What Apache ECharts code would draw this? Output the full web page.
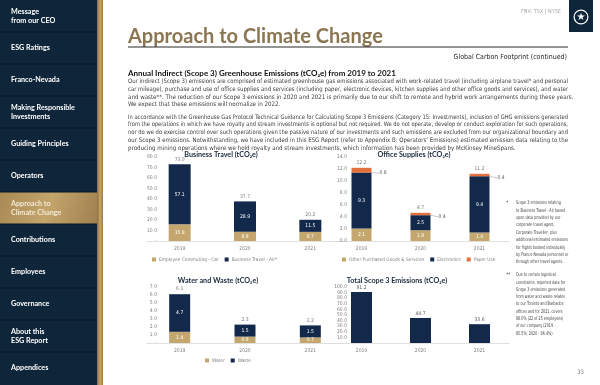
<!DOCTYPE html>
<html><head><meta charset="utf-8">
<script src="https://cdn.jsdelivr.net/npm/echarts@6/dist/echarts.min.js"></script>
<style>html,body{margin:0;padding:0;background:#fff}#c{width:600px;height:385px}</style>
</head><body><div id="c"></div>
<script>
// ---------- data ----------
const years = ['2019', '2020', '2021'];
const travelCar = [15.9, 8.8, 8.7];
const travelAir = [57.1, 28.9, 11.5];
const travelTotal = [73.0, 37.7, 20.2];
const officeOther = [2.1, 1.8, 1.4];
const officeElectronics = [9.3, 2.5, 9.4];
const officePaper = [0.8, 0.4, 0.4];
const officeTotal = [12.2, 4.7, 11.2];
const water = [1.4, 0.8, 0.7];
const waste = [4.7, 1.5, 1.5];
const wwTotal = [6.1, 2.3, 2.2];
const scope3Total = [91.2, 44.7, 33.6];

const navItems = ['Message\nfrom our CEO', 'ESG Ratings', 'Franco-Nevada', 'Making Responsible\nInvestments',
  'Guiding Principles', 'Operators', 'Approach to\nClimate Change', 'Contributions', 'Employees',
  'Governance', 'About this\nESG Report', 'Appendices'];
const activeNav = 6;

const para1 = [
  'Our indirect (Scope 3) emissions are comprised of estimated greenhouse gas emissions associated with work-related travel (including airplane travel* and personal',
  'car mileage), purchase and use of office supplies and services (including paper, electronic devices, kitchen supplies and other office goods and services), and water',
  'and waste**. The reduction of our Scope 3 emissions in 2020 and 2021 is primarily due to our shift to remote and hybrid work arrangements during these years.',
  'We expect that these emissions will normalize in 2022.'];
const para2 = [
  'In accordance with the Greenhouse Gas Protocol Technical Guidance for Calculating Scope 3 Emissions (Category 15: Investments), inclusion of GHG emissions generated',
  'from the operations in which we have royalty and stream investments is optional but not required. We do not operate, develop or conduct exploration for such operations,',
  'nor do we do exercise control over such operations given the passive nature of our investments and such emissions are excluded from our organizational boundary and',
  'our Scope 3 emissions. Notwithstanding, we have included in this ESG Report (refer to Appendix B: Operators\u2019 Emissions) estimated emission data relating to the',
  'producing mining operations where we hold royalty and stream investments, which information has been provided by McKinsey MineSpans.'];
const note1 = ['Scope 3 emissions relating', 'to Business Travel - Air based', 'upon data provided by our',
  'corporate travel agent,', 'Corporate Traveller, plus', 'additional estimated emissions',
  'for flights booked individually', 'by Franco-Nevada personnel or', 'through other travel agents.'];
const note2 = ['Due to certain logistical', 'constraints, reported data for', 'Scope 3 emissions generated',
  'from water and waste relates', 'to our Toronto and Barbados', 'offices and for 2021, covers',
  '88.0% (22 of 25 employees)', 'of our company (2019 -', '85.5%; 2020 - 86.4%).'];

// ---------- styles ----------
const NAVY = '#13294b', TAN = '#c4a76e', ORANGE = '#e2703c', GREY = '#7f7f7f';
const NARROW = '"Liberation Sans Narrow", "DejaVu Sans Condensed", "Arial Narrow", sans-serif';
const HEAD = 'Lato, "Open Sans", sans-serif';

const mctx = document.createElement('canvas').getContext('2d');
function measure(text, font) { mctx.font = font; return mctx.measureText(text).width; }

const graphic = [];
// sidebar
graphic.push({type: 'rect', shape: {x: 0, y: 0, width: 97, height: 385}, style: {fill: '#0f2539'}, silent: true});
graphic.push({type: 'rect', shape: {x: 97, y: 0, width: 6, height: 385},
  style: {fill: new echarts.graphic.LinearGradient(0, 0, 1, 0, [{offset: 0, color: '#8d6c3c'}, {offset: 0.5, color: '#c9a768'}, {offset: 1, color: '#9c7a45'}])}, silent: true});
navItems.forEach((t, i) => {
  const y0 = i * 32;
  if (i === activeNav) {
    graphic.push({type: 'rect', shape: {x: 0, y: y0, width: 97, height: 32},
      style: {fill: new echarts.graphic.LinearGradient(0, 0, 1, 1, [{offset: 0, color: '#a98a55'}, {offset: 0.5, color: '#c3a46b'}, {offset: 1, color: '#a08050'}])}, silent: true});
  }
  if (i > 0) graphic.push({type: 'line', shape: {x1: 0, y1: y0, x2: 97, y2: y0}, style: {stroke: '#061524', lineWidth: 1}, silent: true});
  graphic.push({type: 'text', x: 11, y: y0 + 16, style: {text: t, fill: i === activeNav ? '#f3ead8' : '#ffffff',
    font: 'bold 7.2px ' + HEAD, textVerticalAlign: 'middle', lineHeight: 8.5}, silent: true});
});
// logo
graphic.push({type: 'rect', shape: {x: 569, y: 0, width: 24, height: 32}, style: {fill: '#0f2539'}, silent: true});
graphic.push({type: 'ring', shape: {cx: 581, cy: 17, r: 7.5, r0: 6.3}, style: {fill: '#ffffff'}, silent: true});
graphic.push({type: 'text', x: 581, y: 17.5, style: {text: '\u2605', fill: '#ffffff', font: '10px "DejaVu Sans"', textAlign: 'center', textVerticalAlign: 'middle'}, silent: true});
// header texts
graphic.push({type: 'text', x: 561, y: 12, style: {text: 'FNV: TSX | NYSE', fill: '#a6a6a6', font: '5.5px ' + NARROW, textAlign: 'right', textVerticalAlign: 'middle'}, silent: true});
graphic.push({type: 'text', x: 128, y: 37, style: {text: 'Approach to Climate Change', fill: '#8b7651', font: 'bold 20px ' + HEAD, textVerticalAlign: 'middle'}, silent: true});
graphic.push({type: 'line', shape: {x1: 128, y1: 47, x2: 568, y2: 47}, style: {stroke: '#2b2b2b', lineWidth: 1.2}, silent: true});
graphic.push({type: 'text', x: 567, y: 57, style: {text: 'Global Carbon Footprint (continued)', fill: '#262626', font: '7px ' + NARROW, textAlign: 'right', textVerticalAlign: 'middle'}, silent: true});
graphic.push({type: 'text', x: 128, y: 73, style: {text: 'Annual Indirect (Scope 3) Greenhouse Emissions (tCO\u2082e) from 2019 to 2021', fill: '#111111', font: 'bold 8px ' + HEAD, textVerticalAlign: 'middle'}, silent: true});

function addPara(lines, y0, step, justifyCount) {
  const font = '6.15px ' + NARROW;
  lines.forEach((t, i) => {
    const w = measure(t, font);
    const sx = i < justifyCount ? 440 / w : 1;
    graphic.push({type: 'text', x: 128, y: y0 + i * step, scaleX: sx, style: {text: t, fill: '#404040', font: font, textVerticalAlign: 'middle'}, silent: true});
  });
}
addPara(para1, 81.5, 7.8, 2);
addPara(para2, 117, 7.8, 4);

function addNote(mark, lines, y0, step) {
  const font = '5px ' + NARROW;
  const sx = 52 / measure('additional estimated emissions', font);
  graphic.push({type: 'text', x: 506, y: y0, style: {text: mark, fill: '#404040', font: font, textVerticalAlign: 'middle'}, silent: true});
  lines.forEach((t, i) => {
    graphic.push({type: 'text', x: 516, y: y0 + i * step, scaleX: sx, style: {text: t, fill: '#404040', font: font, textVerticalAlign: 'middle'}, silent: true});
  });
}
addNote('*', note1, 203, 7.4);
addNote('**', note2, 275, 7.3);
graphic.push({type: 'text', x: 584, y: 372, style: {text: '33', fill: '#7f7f7f', font: '6px ' + NARROW, textAlign: 'right', textVerticalAlign: 'middle'}, silent: true});

// ---------- chart ----------
const grids = [
  {left: 147, top: 157, width: 196, height: 84},
  {left: 332, top: 157, width: 177, height: 84},
  {left: 147, top: 287, width: 196, height: 56},
  {left: 332, top: 287, width: 177, height: 56}
];
const yCfg = [
  {max: 80, interval: 10, dash: true, margin: -10},
  {max: 14, interval: 2, dash: false, margin: -15},
  {max: 7, interval: 1, dash: true, margin: -10},
  {max: 100, interval: 10, dash: true, margin: -15}
];
const axisFont = {fontSize: 5, color: GREY, fontFamily: NARROW};
const xAxis = grids.map((g, i) => ({type: 'category', gridIndex: i, data: years,
  axisLine: {lineStyle: {color: '#d9d9d9', width: 0.8}}, axisTick: {show: false},
  axisLabel: Object.assign({margin: 5}, axisFont)}));
const yAxis = yCfg.map((c, i) => ({type: 'value', gridIndex: i, min: 0, max: c.max, interval: c.interval,
  splitLine: {show: false}, axisLine: {show: false}, axisTick: {show: false},
  axisLabel: Object.assign({margin: c.margin, formatter: v => (v === 0 && c.dash) ? '-' : v.toFixed(1)}, axisFont)}));

const inLabel = {show: true, color: '#ffffff', fontSize: 5, fontFamily: NARROW, formatter: p => p.value.toFixed(1)};
function bar(name, data, gi, stack, color, bw, label) {
  return {type: 'bar', name: name, data: data, xAxisIndex: gi, yAxisIndex: gi, stack: stack,
    barWidth: bw, itemStyle: {color: color}, label: label || inLabel, emphasis: {disabled: true}};
}
function totals(data, gi) {
  return {type: 'scatter', data: data, xAxisIndex: gi, yAxisIndex: gi, symbolSize: 1,
    itemStyle: {color: 'rgba(0,0,0,0)'}, silent: true, z: 5,
    label: {show: true, position: 'top', distance: 2, color: '#595959', fontSize: 5, fontFamily: NARROW,
      formatter: p => p.value.toFixed(1)}};
}
const series = [
  bar('Employee Commuting - Car', travelCar, 0, 'bt', TAN, 22),
  bar('Business Travel - Air*', travelAir, 0, 'bt', NAVY, 22),
  totals(travelTotal, 0),
  bar('Other Purchased Goods & Services', officeOther, 1, 'os', TAN, 20),
  bar('Electronics', officeElectronics, 1, 'os', NAVY, 20),
  Object.assign(bar('Paper Use', officePaper, 1, 'os', ORANGE, 20,
    {show: true, position: 'right', color: '#595959', fontSize: 5, fontFamily: NARROW, formatter: p => p.value.toFixed(1)}),
    {labelLayout: {dx: 3, dy: 3}, labelLine: {show: true, length2: 0, lineStyle: {color: '#a6a6a6', width: 0.6}}}),
  totals(officeTotal, 1),
  bar('Water', water, 2, 'ww', TAN, 21),
  bar('Waste', waste, 2, 'ww', NAVY, 21),
  totals(wwTotal, 2),
  bar('Total Scope 3 Emissions', scope3Total, 3, 'ts', NAVY, 21,
    {show: true, position: 'top', distance: 2, color: '#595959', fontSize: 5, fontFamily: NARROW, formatter: p => p.value.toFixed(1)})
];
const legendBase = {icon: 'rect', itemWidth: 4, itemHeight: 4, itemGap: 6,
  textStyle: {fontSize: 4.8, color: GREY, fontFamily: NARROW, padding: [0, 0, 0, -2]}, selectedMode: false};
const legend = [
  Object.assign({data: ['Employee Commuting - Car', 'Business Travel - Air*'], left: 147, top: 252}, legendBase),
  Object.assign({data: ['Other Purchased Goods & Services', 'Electronics', 'Paper Use'], left: 337, top: 252}, legendBase),
  Object.assign({data: ['Water', 'Waste'], left: 200, top: 353}, legendBase)
];
const titleStyle = {fontSize: 7.2, fontWeight: 'bold', color: '#1b2a3c', fontFamily: HEAD};
const title = [
  {text: 'Business Travel (tCO\u2082e)', left: 221, top: 151, textAlign: 'center', textStyle: titleStyle},
  {text: 'Office Supplies (tCO\u2082e)', left: 414, top: 151, textAlign: 'center', textStyle: titleStyle},
  {text: 'Water and Waste (tCO\u2082e)', left: 218, top: 277, textAlign: 'center', textStyle: titleStyle},
  {text: 'Total Scope 3 Emissions (tCO\u2082e)', left: 397, top: 277, textAlign: 'center', textStyle: titleStyle}
].map(t => Object.assign({padding: 0}, t));

const chart = echarts.init(document.getElementById('c'));
chart.setOption({animation: false, backgroundColor: '#ffffff', title, legend, grid: grids, xAxis, yAxis, series, graphic});
</script></body></html>
